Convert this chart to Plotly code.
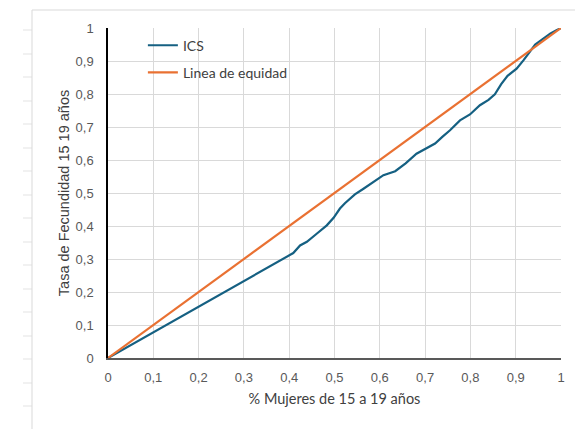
import plotly.graph_objects as go

# ---- data ----
ics_x = [0, 0.1, 0.2, 0.3, 0.409, 0.424, 0.439, 0.462, 0.483, 0.498, 0.512, 0.523, 0.545, 0.564,
         0.585, 0.608, 0.634, 0.657, 0.681, 0.700, 0.722, 0.738, 0.755, 0.777, 0.799, 0.821,
         0.840, 0.854, 0.868, 0.882, 0.902, 0.917, 0.930, 0.943, 0.958, 0.976, 0.990, 1.0]
ics_y = [0, 0.078, 0.156, 0.235, 0.318, 0.341, 0.352, 0.378, 0.402, 0.425, 0.453, 0.469, 0.496, 0.513,
         0.533, 0.554, 0.566, 0.590, 0.619, 0.633, 0.650, 0.670, 0.690, 0.720, 0.738, 0.766,
         0.782, 0.799, 0.830, 0.855, 0.877, 0.902, 0.928, 0.950, 0.965, 0.983, 0.993, 1.0]
eq_x = [0, 1]
eq_y = [0, 1]
tick_vals = [0, 0.1, 0.2, 0.3, 0.4, 0.5, 0.6, 0.7, 0.8, 0.9, 1]
tick_text = ["0", "0,1", "0,2", "0,3", "0,4", "0,5", "0,6", "0,7", "0,8", "0,9", "1"]

W, H = 583, 429
OFF = 8  # page body margin
L, R, T, B = 100, 30, 20, 79
PW, PH = W - L - R, H - T - B

def px(x):
    return (x - OFF - L) / PW

def py(y):
    return (H - B - (y - OFF)) / PH

fig = go.Figure()
fig.add_trace(go.Scatter(x=ics_x, y=ics_y, mode="lines", name="ICS",
                         line=dict(color="#156082", width=2.2), legendgroup="a"))
fig.add_trace(go.Scatter(x=eq_x, y=eq_y, mode="lines", name="Linea de equidad",
                         line=dict(color="#E97132", width=2.2), legendgroup="b"))

shapes = []
grid_col = "#e3e3e3"
# spreadsheet background lines (left margin)
for yv in [30, 54, 77, 101, 124, 148, 171, 195, 218, 242, 265, 289, 312, 336, 359, 383, 406]:
    shapes.append(dict(type="line", xref="paper", yref="paper", x0=px(23), x1=px(32), y0=py(yv), y1=py(yv),
                       line=dict(color=grid_col, width=1), layer="below"))
# chart area border
shapes.append(dict(type="line", xref="paper", yref="paper", x0=px(32), x1=px(600), y0=py(10), y1=py(10),
                   line=dict(color="#d9d9d9", width=1), layer="below"))
shapes.append(dict(type="line", xref="paper", yref="paper", x0=px(32), x1=px(32), y0=py(10), y1=py(450),
                   line=dict(color="#d9d9d9", width=1), layer="below"))

fig.update_layout(
    width=W, height=H,
    margin=dict(l=L, r=R, t=T, b=B),
    paper_bgcolor="white", plot_bgcolor="white",
    font=dict(family="Liberation Sans, Arial, sans-serif", color="#595959", size=13),
    shapes=shapes,
    showlegend=True,
    legend=dict(x=0.077, y=0.995, xanchor="left", yanchor="top", bgcolor="rgba(0,0,0,0)",
                font=dict(family="Lato, sans-serif", size=14, color="#404040"),
                tracegroupgap=6, itemwidth=30),
    xaxis=dict(range=[0, 1], tickvals=tick_vals, ticktext=tick_text, showgrid=True,
               gridcolor="#d9d9d9", gridwidth=1, zeroline=False, showline=True,
               linecolor="#595959", linewidth=1.5, ticks="", ticklabelstandoff=7,
               tickfont=dict(size=13, color="#595959"),
               title=dict(text="% Mujeres de 15 a 19 años", standoff=10,
                          font=dict(family="Lato, sans-serif", size=14.5, color="#404040"))),
    yaxis=dict(range=[0, 1], tickvals=tick_vals, ticktext=tick_text, showgrid=True,
               gridcolor="#d9d9d9", gridwidth=1, zeroline=False, showline=True,
               linecolor="#000000", linewidth=1.5, ticks="", ticklabelstandoff=10,
               tickfont=dict(size=13, color="#595959"),
               title=dict(text="Tasa de Fecundidad 15 19 años", standoff=2,
                          font=dict(family="Liberation Sans, Arial, sans-serif", size=14.5, color="#404040"))),
)

fig.write_html("out.html")
